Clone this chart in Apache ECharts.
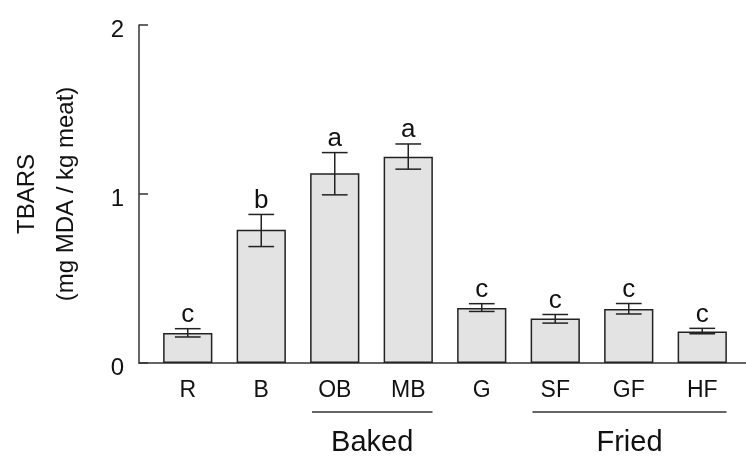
<!DOCTYPE html>
<html>
<head>
<meta charset="utf-8">
<script src="https://cdn.jsdelivr.net/npm/echarts@6/dist/echarts.min.js"></script>
<style>html,body{margin:0;padding:0;background:#fff;}#c{width:746px;height:457px;}</style>
</head>
<body>
<div id="c"></div>
<script>
const categories = ['R', 'B', 'OB', 'MB', 'G', 'SF', 'GF', 'HF'];
const means    = [0.177, 0.788, 1.123, 1.221, 0.325, 0.264, 0.319, 0.187];
const errLow   = [0.154, 0.689, 0.995, 1.147, 0.305, 0.236, 0.290, 0.173];
const errHigh  = [0.203, 0.879, 1.245, 1.296, 0.351, 0.287, 0.352, 0.205];
const letters  = ['c', 'b', 'a', 'a', 'c', 'c', 'c', 'c'];
const yTicks   = [0, 1, 2];
const groupNames = ['Baked', 'Fried'];
const groupFrom  = ['OB', 'SF'];
const groupTo    = ['MB', 'HF'];

const FONT = "'Liberation Sans', Arial, Helvetica, sans-serif";
const INK = '#222';

const chart = echarts.init(document.getElementById('c'), null, {renderer: 'canvas'});

const option = {
  backgroundColor: '#fff',
  animation: false,
  grid: [
    {left: 136, right: 0, top: 25, bottom: 94},
    {left: 151, right: 7, top: 25, bottom: 94}
  ],
  xAxis: [
    {gridIndex: 0, type: 'value', min: 0, max: 1,
     axisLine: {show: true, lineStyle: {color: '#333', width: 1.5}},
     axisTick: {show: false}, axisLabel: {show: false}, splitLine: {show: false}},
    {gridIndex: 1, type: 'category', data: categories,
     axisLine: {show: false}, axisTick: {show: false}, splitLine: {show: false},
     axisLabel: {color: '#111', fontFamily: FONT, fontSize: 23, margin: 16}}
  ],
  yAxis: [
    {gridIndex: 0, type: 'value', min: yTicks[0], max: yTicks[yTicks.length - 1], interval: 1,
     axisLine: {show: true, lineStyle: {color: '#333', width: 1.5}},
     axisTick: {show: true, inside: true, length: 9, lineStyle: {color: '#333', width: 1.5}},
     axisLabel: {color: '#111', fontFamily: FONT, fontSize: 24, margin: 15, verticalAlign: 'top', lineHeight: 10},
     splitLine: {show: false},
     name: 'TBARS\n(mg MDA / kg meat)',
     nameLocation: 'middle', nameRotate: 90, nameGap: 53,
     nameTextStyle: {color: '#111', fontFamily: FONT, fontSize: 24, lineHeight: 39}},
    {gridIndex: 1, type: 'value', min: yTicks[0], max: yTicks[yTicks.length - 1], show: false}
  ],
  series: [
    {
      type: 'bar', xAxisIndex: 1, yAxisIndex: 1,
      data: means, barWidth: '67%',
      itemStyle: {color: '#e3e3e3', borderColor: INK, borderWidth: 1.5}
    },
    {
      type: 'custom', xAxisIndex: 1, yAxisIndex: 1,
      data: categories.map((c, i) => [i, errLow[i], errHigh[i]]),
      renderItem: function (params, api) {
        const i = api.value(0);
        const pHi = api.coord([i, api.value(2)]);
        const pLo = api.coord([i, api.value(1)]);
        const half = api.size([1, 0])[0] * 0.175;
        const st = {stroke: INK, lineWidth: 1.5};
        return {
          type: 'group',
          children: [
            {type: 'line', shape: {x1: pHi[0], y1: pHi[1], x2: pLo[0], y2: pLo[1]}, style: st},
            {type: 'line', shape: {x1: pHi[0] - half, y1: pHi[1], x2: pHi[0] + half, y2: pHi[1]}, style: st},
            {type: 'line', shape: {x1: pLo[0] - half, y1: pLo[1], x2: pLo[0] + half, y2: pLo[1]}, style: st},
            {type: 'text', style: {text: letters[params.dataIndex], x: pHi[0], y: pHi[1] - 1,
              textAlign: 'center', textVerticalAlign: 'bottom', fill: '#111',
              font: '26px ' + FONT}}
          ]
        };
      },
      z: 5
    },
    {
      type: 'custom', xAxisIndex: 1, yAxisIndex: 1,
      data: groupNames.map((g, k) => [categories.indexOf(groupFrom[k]), categories.indexOf(groupTo[k])]),
      renderItem: function (params, api) {
        const p1 = api.coord([api.value(0), 0]);
        const p2 = api.coord([api.value(1), 0]);
        const w = api.size([1, 0])[0];
        const x1 = p1[0] - w * 0.31, x2 = p2[0] + w * 0.33;
        const y = p1[1] + 49;
        return {
          type: 'group',
          children: [
            {type: 'line', shape: {x1: x1, y1: y, x2: x2, y2: y}, style: {stroke: '#333', lineWidth: 1.5}},
            {type: 'text', style: {text: groupNames[params.dataIndex], x: (x1 + x2) / 2, y: p1[1] + 80,
              textAlign: 'center', textVerticalAlign: 'middle', fill: '#111', font: '29px ' + FONT}}
          ]
        };
      },
      clip: false
    }
  ]
};
chart.setOption(option);
</script>
</body>
</html>
